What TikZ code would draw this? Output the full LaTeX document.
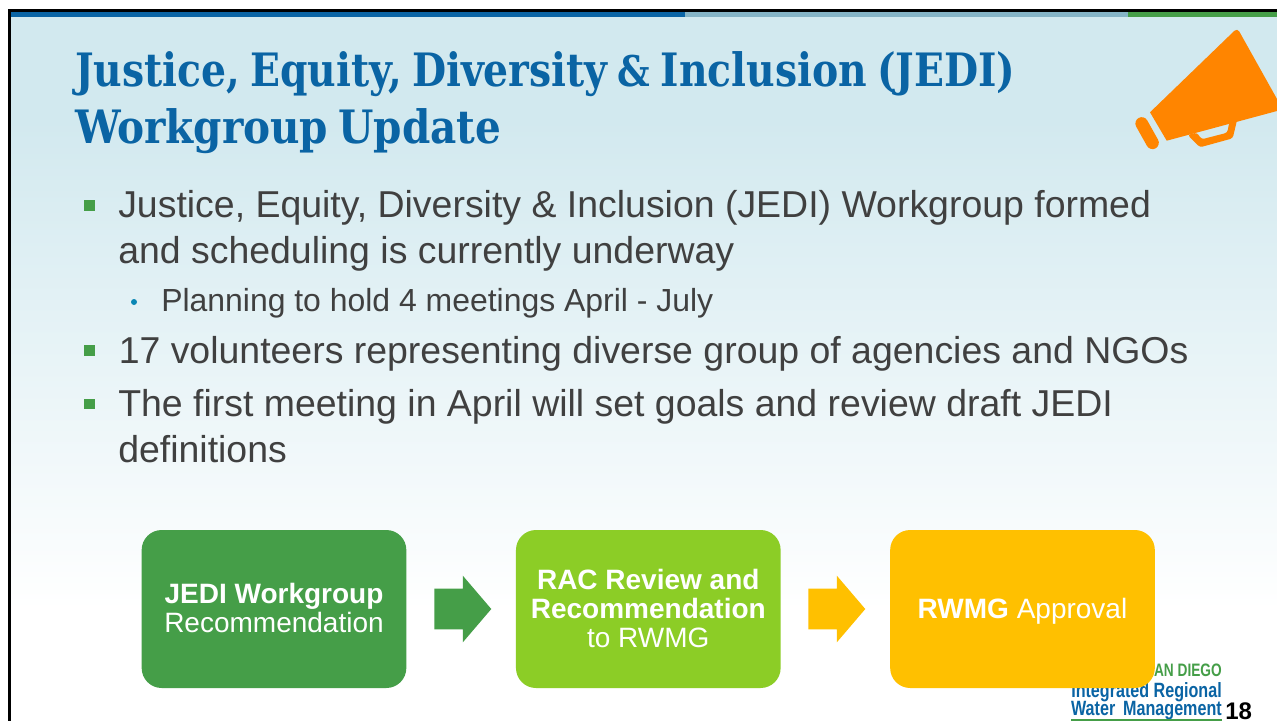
\documentclass[tikz,border=0pt]{standalone}
\usepackage{fontspec}
\usetikzlibrary{shapes.arrows}
\setmainfont{Liberation Sans}
\newfontfamily\titlefont[FakeStretch=0.95]{DejaVu Serif Condensed}
\newfontfamily\titlefontb[FakeStretch=0.98]{DejaVu Serif Condensed}
\newfontfamily\logofont[FakeStretch=0.78]{Liberation Sans}
\newfontfamily\logothin[FakeStretch=0.76]{Liberation Sans}
\definecolor{titleblue}{HTML}{0A64A4}
\definecolor{barteal}{HTML}{85B4C6}
\definecolor{jedigreen}{HTML}{459E48}
\definecolor{lime}{HTML}{8CCD26}
\definecolor{amber}{HTML}{FFC000}
\definecolor{bodygrey}{HTML}{404040}
\definecolor{skyband}{HTML}{D2E9EF}
\definecolor{horn}{HTML}{FF8500}
\definecolor{dotblue}{HTML}{0A86B4}
\tikzset{
  titletext/.style={anchor=north west,inner sep=0pt,align=left,text=titleblue,font=\bfseries\fontsize{34.5pt}{43pt}\selectfont},
  bodytext/.style={anchor=north west,inner sep=0pt,align=left,text=bodygrey,font=\fontsize{28.08pt}{34.4pt}\selectfont},
  subtext/.style={anchor=north west,inner sep=0pt,align=left,text=bodygrey,font=\fontsize{23.95pt}{28pt}\selectfont},
  bulletmark/.style={fill=jedigreen,inner sep=0pt,minimum size=7.8pt},
  stepbox/.style={rounded corners=15pt,minimum width=198.5pt,minimum height=118.5pt,inner sep=0pt,align=center,text=white,font=\fontsize{21pt}{21.75pt}\selectfont},
  blockarrow/.style={single arrow,anchor=west,inner sep=0pt,minimum height=42.75pt,minimum width=49.5pt,single arrow head extend=9.75pt,single arrow tip angle=99,shape border rotate=0},
}
\begin{document}
\begin{tikzpicture}[x=0.75pt,y=-0.75pt]
\useasboundingbox (0,0) rectangle (1277,721);
\fill[white] (0,0) rectangle (1277,721);
% background
\fill[skyband] (10,17) rectangle (1277,121);
\shade[top color=skyband,bottom color=white,shading angle=0] (10,120) rectangle (1277,610);
\fill[black] (8,9) rectangle (1277,12);
\fill[black] (8,9) rectangle (10.5,721);
\fill[titleblue] (10.5,12) rectangle (685,17);
\fill[barteal] (685,12) rectangle (1128,17);
\fill[jedigreen] (1128,12) rectangle (1277,17);
% megaphone
\fill[horn] (1150,112.3) [rounded corners=3pt] -- (1237.3,28) [sharp corners] -- (1277,99) -- (1277,111) -- (1166.7,140.7) -- cycle;
\fill[horn,rounded corners=2pt] (1187.7,135) -- (1200,147.3) -- (1232.7,138.3) -- (1237.3,119) -- (1229.3,122) -- (1227.3,132.7) -- (1201.7,139.3) -- (1196.7,132.5) -- cycle;
\draw[horn,line width=9.5pt,line cap=round] (1141.7,123.5) -- (1152.5,142.8);
% title
\node[titletext] (title) at (75,51) {{\titlefont\spaceskip=.22em Justice, Equity, Diversity \scalebox{.92}{\&} Inclusion (JEDI)}\\{\titlefontb\spaceskip=.22em Workgroup Update}};
% bullets
\node[bulletmark] (b1) at (89.5,205.5) {};
\node[bodytext] (t1) at (118,190.5) {Justice, Equity, Diversity \& Inclusion (JEDI) Workgroup formed\\and scheduling is currently underway};
\node[fill=dotblue,circle,inner sep=0pt,minimum size=4.5pt] (b2) at (134,302) {};
\node[subtext] (t2) at (161,288) {Planning to hold 4 meetings April - July};
\node[bulletmark] (b3) at (89.5,350.5) {};
\node[bodytext] (t3) at (118.5,336) {17 volunteers representing diverse group of agencies and NGOs};
\node[bulletmark] (b4) at (89.5,404) {};
\node[bodytext] (t4) at (118,389) {The first meeting in April will set goals and review draft JEDI\\definitions};
% logo
\node[anchor=base east,inner sep=0pt,text=jedigreen,font=\logothin\bfseries\fontsize{13.5pt}{13.5pt}\selectfont] (logoa) at (1222,676) {SAN DIEGO};
\node[anchor=base east,inner sep=0pt,text=titleblue,font=\logofont\bfseries\fontsize{15.5pt}{15.5pt}\selectfont] (logob) at (1222,697) {Integrated Regional};
\node[anchor=base east,inner sep=0pt,text=titleblue,font=\logofont\bfseries\fontsize{15.5pt}{15.5pt}\selectfont] (logoc) at (1222,715.5) {Water\, Management};
\draw[jedigreen,line width=0.8pt] (1071,720) -- (1222,720);
\node[anchor=base west,inner sep=0pt,font=\bfseries\fontsize{18pt}{18pt}\selectfont] (pagenum) at (1225,719.5) {18};
% flow
\node[stepbox,fill=jedigreen] (s1) at (274,609) {\textbf{JEDI Workgroup}\\Recommendation\rule[-1.5pt]{0pt}{0pt}};
\node[stepbox,fill=lime] (s2) at (648.3,609) {\textbf{RAC Review and}\\\textbf{Recommendation}\\to RWMG\rule[-1.5pt]{0pt}{0pt}};
\node[stepbox,fill=amber] (s3) at (1022.5,609) {\rule{0pt}{18pt}\textbf{RWMG} Approval};
\node[blockarrow,fill=jedigreen] (a1) at (434,609) {\rule{0pt}{30pt}};
\node[blockarrow,fill=amber] (a2) at (808,609) {\rule{0pt}{30pt}};
\end{tikzpicture}
\end{document}
